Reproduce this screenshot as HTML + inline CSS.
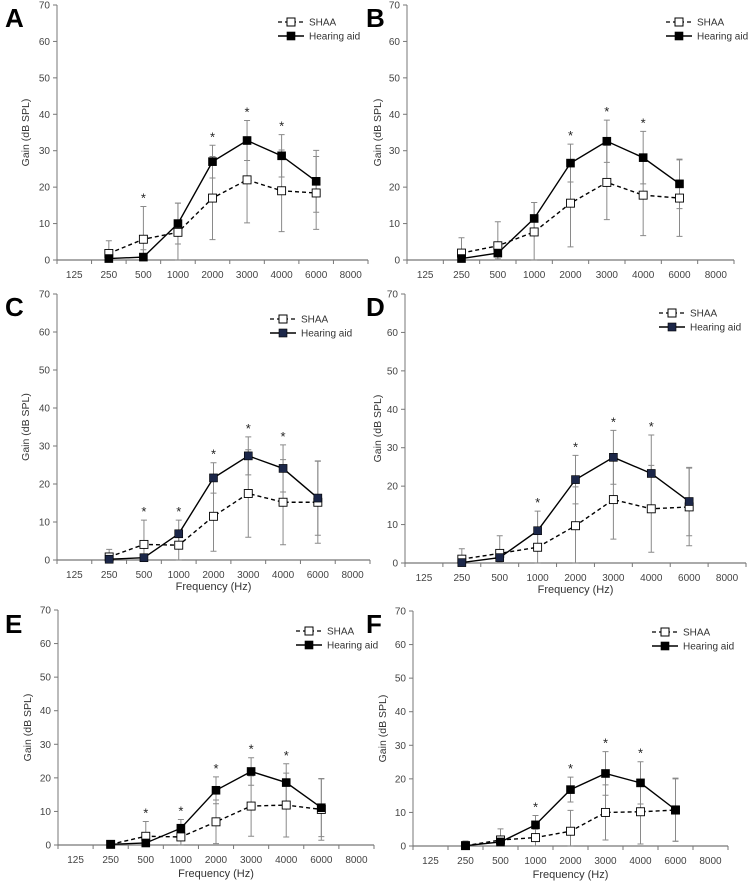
<!DOCTYPE html>
<html><head><meta charset="utf-8"><style>
html,body{margin:0;padding:0;background:#fff;}
svg{display:block;font-family:"Liberation Sans",sans-serif;}
</style></head><body>
<svg id="fig" width="752" height="881"></svg>
<script>
const categories=["125","250","500","1000","2000","3000","4000","6000","8000"];
const yTicks=[0,10,20,30,40,50,60,70];
const panelLetters=["A","B","C","D","E","F"];
const shaaA=[null,1.8,5.7,7.6,17,22,19,18.4,null];
const shaaSdA=[null,3.5,9,8,11.4,11.8,11.2,10,null];
const haA=[null,0.4,0.8,10,27,32.8,28.6,21.6,null];
const haSdA=[null,0.4,2,5.6,4.5,5.5,5.8,8.5,null];
const starsA=[2,4,5,6];
const shaaB=[null,1.9,3.9,7.7,15.6,21.3,17.8,17.0,null];
const shaaSdB=[null,4.2,6.6,8.1,12,10.2,11.1,10.5,null];
const haB=[null,0.4,1.9,11.4,26.6,32.6,28.1,20.9,null];
const haSdB=[null,0.5,1.6,4.4,5.2,5.8,7.2,6.8,null];
const starsB=[4,5,6];
const shaaC=[null,0.8,4.1,3.9,11.5,17.5,15.2,15.2,null];
const shaaSdC=[null,2,6.4,4,9.2,11.5,11.2,10.8,null];
const haC=[null,0.2,0.6,6.9,21.6,27.4,24.1,16.3,null];
const haSdC=[null,0.3,0.8,3.6,4,5,6.2,9.8,null];
const starsC=[2,3,4,5,6];
const shaaD=[null,1,2.5,4.1,9.7,16.5,14.1,14.6,null];
const shaaSdD=[null,2.7,4.6,4.5,10.1,10.3,11.3,10.1,null];
const haD=[null,0.1,1.4,8.4,21.7,27.5,23.3,16,null];
const haSdD=[null,0.2,1.2,5.1,6.3,7,10,8.9,null];
const starsD=[3,4,5,6];
const shaaE=[null,0.2,2.6,2.4,6.9,11.6,11.9,10.6,null];
const shaaSdE=[null,0.3,4.4,2.5,6.5,9,9.5,9.2,null];
const haE=[null,0.2,0.6,5,16.3,21.9,18.6,11.1,null];
const haSdE=[null,0.2,0.4,2.6,4,4.1,5.6,8.6,null];
const starsE=[2,3,4,5,6];
const shaaF=[null,0.1,1.8,2.5,4.4,10,10.2,10.7,null];
const shaaSdF=[null,1.4,3.3,2.5,6.2,8.2,9.6,9.3,null];
const haF=[null,0.1,1.2,6.3,16.8,21.6,18.8,10.8,null];
const haSdF=[null,0.1,0.4,2.8,3.7,6.5,6.3,9.4,null];
const starsF=[3,4,5,6];

const NS="http://www.w3.org/2000/svg";
const svg=document.getElementById('fig');
function mk(tag,attrs,parent,text){const e=document.createElementNS(NS,tag);for(const k in attrs)e.setAttribute(k,attrs[k]);if(text!==undefined)e.textContent=text;(parent||svg).appendChild(e);return e;}

const panels=[
 {L:"A",x0:57,x1:368,yTop:5,yBot:260,lx:278,ly:22,lbx:5,lby:27,ytx:29,freq:null,shaa:shaaA,ssd:shaaSdA,ha:haA,hsd:haSdA,stars:starsA,col:"#000"},
 {L:"B",x0:407,x1:734,yTop:5,yBot:260,lx:666,ly:22,lbx:366,lby:27,ytx:381,freq:null,shaa:shaaB,ssd:shaaSdB,ha:haB,hsd:haSdB,stars:starsB,col:"#000"},
 {L:"C",x0:57,x1:370,yTop:294,yBot:560,lx:270,ly:319,lbx:5,lby:316,ytx:29,freq:590,shaa:shaaC,ssd:shaaSdC,ha:haC,hsd:haSdC,stars:starsC,col:"#1c2749"},
 {L:"D",x0:405,x1:746,yTop:294,yBot:563,lx:659,ly:313,lbx:366,lby:316,ytx:381,freq:593,shaa:shaaD,ssd:shaaSdD,ha:haD,hsd:haSdD,stars:starsD,col:"#1c2749"},
 {L:"E",x0:58,x1:374,yTop:610,yBot:845,lx:296,ly:631,lbx:5,lby:633,ytx:31,freq:877,shaa:shaaE,ssd:shaaSdE,ha:haE,hsd:haSdE,stars:starsE,col:"#000"},
 {L:"F",x0:413,x1:728,yTop:611,yBot:846,lx:652,ly:632,lbx:366,lby:633,ytx:386,freq:878,shaa:shaaF,ssd:shaaSdF,ha:haF,hsd:haSdF,stars:starsF,col:"#000"}
];

panels.forEach(p=>{
 const g=mk('g',{});
 
 
 const cw=(p.x1-p.x0)/categories.length;
 const xS=i=>p.x0+cw*(i+0.5);
 const yS=v=>p.yBot-(v/70)*(p.yBot-p.yTop);
 const lab=mk('text',{x:p.lbx,y:p.lby,'font-size':26,'font-weight':'bold',fill:'#000'},g,p.L);
 
 
 const ya=mk('line',{x1:p.x0,y1:p.yTop,x2:p.x0,y2:p.yBot,stroke:'#777','stroke-width':1},g);
 
 
 const xa=mk('line',{x1:p.x0,y1:p.yBot,x2:p.x1,y2:p.yBot,stroke:'#777','stroke-width':1.2},g);
 
 
 yTicks.forEach(t=>{
  mk('line',{x1:p.x0-4,y1:yS(t),x2:p.x0,y2:yS(t),stroke:'#777'},g);
  const tl=mk('text',{x:p.x0-7,y:yS(t)+3.5,'font-size':10,fill:'#444','text-anchor':'end'},g,String(t));
  
  
 });
 for(let i=0;i<=categories.length;i++){mk('line',{x1:p.x0+cw*i,y1:p.yBot,x2:p.x0+cw*i,y2:p.yBot+4,stroke:'#777'},g);}
 categories.forEach((c,i)=>{
  const tl=mk('text',{x:xS(i),y:p.yBot+18,'font-size':10,fill:'#444','text-anchor':'middle'},g,c);
  
  
 });
 const yc=(p.yTop+p.yBot)/2;
 const yt=mk('text',{x:p.ytx,y:yc,'font-size':10.5,fill:'#333','text-anchor':'middle',transform:`rotate(-90 ${p.ytx} ${yc})`},g,'Gain (dB SPL)');
 
 
 if(p.freq){
  const ft=mk('text',{x:(p.x0+p.x1)/2,y:p.freq,'font-size':11,fill:'#333','text-anchor':'middle'},g,'Frequency (Hz)');
  
  
 }
 function errs(vals,sds){vals.forEach((v,i)=>{if(v==null)return;const x=xS(i);const hi=yS(v+sds[i]);const lo=yS(Math.max(0,v-sds[i]));
  const e=mk('path',{d:`M${x},${hi}V${lo}M${x-3},${hi}H${x+3}M${x-3},${lo}H${x+3}`,stroke:'#8a8a8a','stroke-width':1,fill:'none'},g);
  
  });}
 errs(p.shaa,p.ssd);errs(p.ha,p.hsd);
 function line(vals,dash,col){const pts=[];vals.forEach((v,i)=>{if(v!=null)pts.push(xS(i)+','+yS(v));});
  const l=mk('polyline',{points:pts.join(' '),fill:'none',stroke:col,'stroke-width':1.4,'stroke-dasharray':dash},g);return l;}
 const sl=line(p.shaa,'4,3','#000');
 
 
 const hl=line(p.ha,'none','#000');
 
 
 p.shaa.forEach((v,i)=>{if(v==null)return;const m=mk('rect',{x:xS(i)-4,y:yS(v)-4,width:8,height:8,fill:'#fff',stroke:'#000','stroke-width':0.9},g);
  
  });
 p.ha.forEach((v,i)=>{if(v==null)return;const m=mk('rect',{x:xS(i)-4,y:yS(v)-4,width:8,height:8,fill:p.col,stroke:'#000','stroke-width':0.6},g);
  
  });
 p.stars.forEach(i=>{const top=Math.max(p.shaa[i]+p.ssd[i],p.ha[i]+p.hsd[i]);
  const s=mk('text',{x:xS(i),y:yS(top)-4,'font-size':13,fill:'#222','text-anchor':'middle'},g,'*');
  
  });
 const lg=mk('g',{},g);
 
 
 mk('line',{x1:p.lx,y1:p.ly,x2:p.lx+26,y2:p.ly,stroke:'#000','stroke-dasharray':'4,3','stroke-width':1.2},lg);
 mk('rect',{x:p.lx+9,y:p.ly-4,width:8,height:8,fill:'#fff',stroke:'#000'},lg);
 const t1=mk('text',{x:p.lx+31,y:p.ly+3.5,'font-size':10,fill:'#333'},lg,'SHAA');
 
 
 mk('line',{x1:p.lx,y1:p.ly+14,x2:p.lx+26,y2:p.ly+14,stroke:'#000','stroke-width':1.4},lg);
 mk('rect',{x:p.lx+9,y:p.ly+10,width:8,height:8,fill:p.col,stroke:'#000','stroke-width':0.6},lg);
 const t2=mk('text',{x:p.lx+31,y:p.ly+17.5,'font-size':10,fill:'#333'},lg,'Hearing aid');
 
 
});
</script>
</body></html>
